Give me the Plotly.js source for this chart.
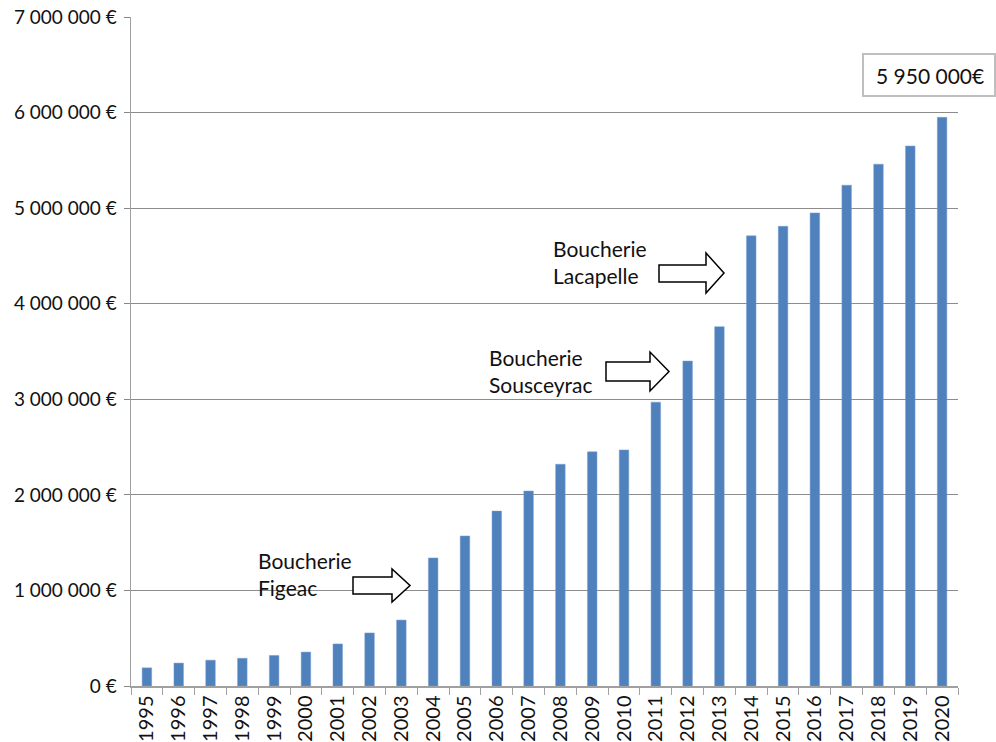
<!DOCTYPE html>
<html><head><meta charset="utf-8">
<script src="https://cdn.plot.ly/plotly-3.0.1.min.js"></script>
<style>html,body{margin:0;padding:0;background:#fff}#chart{width:996px;height:742px}</style>
</head><body><div id="chart"></div>
<script>
const years = ['1995','1996','1997','1998','1999','2000','2001','2002','2003','2004','2005','2006','2007','2008','2009','2010','2011','2012','2013','2014','2015','2016','2017','2018','2019','2020'];
const revenue = [190000,240000,270000,290000,320000,355000,440000,555000,690000,1340000,1570000,1830000,2040000,2320000,2450000,2470000,2970000,3400000,3760000,4710000,4810000,4950000,5240000,5460000,5650000,5950000];
const yTickVals = [0,1000000,2000000,3000000,4000000,5000000,6000000,7000000];
const yTickText = ['0 €','1 000 000 €','2 000 000 €','3 000 000 €','4 000 000 €','5 000 000 €','6 000 000 €','7 000 000 €'];
const notes = [
  {text:'Boucherie<br>Figeac', px:256, py:574},
  {text:'Boucherie<br>Sousceyrac', px:487, py:371},
  {text:'Boucherie<br>Lacapelle', px:551, py:262}
];
const arrows = [
  {x0:353, xb:392, xt:410, ht:569, bt:577, bb:594, hb:602},
  {x0:606, xb:650, xt:669, ht:352, bt:362, bb:381, hb:391},
  {x0:659, xb:706, xt:724, ht:253, bt:265, bb:282, hb:293}
];
const lastLabel = '5 950 000€';

const W=996,H=742,L=131,R=958,T=17,B=686;
const px=x=>(x-L)/(R-L), py=y=>(B-y)/(B-T);
const FONT='Lato, "Open Sans", sans-serif';

const shapes = arrows.map(a=>{
  const ym=(a.ht+a.hb)/2;
  const pts=[[a.x0,a.bt],[a.xb,a.bt],[a.xb,a.ht],[a.xt,ym],[a.xb,a.hb],[a.xb,a.bb],[a.x0,a.bb]];
  return {type:'path',xref:'paper',yref:'paper',
    path:'M'+pts.map(p=>px(p[0])+','+py(p[1])).join(' L')+' Z',
    line:{color:'#000',width:1.5},fillcolor:'#fff'};
});
shapes.push({type:'rect',xref:'paper',yref:'paper',x0:px(863),x1:px(995),y0:py(96),y1:py(54),
  line:{color:'#bfbfbf',width:2},fillcolor:'#fff'});

const annotations = notes.map(n=>({xref:'paper',yref:'paper',x:px(n.px),y:py(n.py),xanchor:'left',yanchor:'middle',
  text:n.text,showarrow:false,align:'left',font:{family:FONT,size:21,color:'#111'}}));
annotations.push({xref:'paper',yref:'paper',x:px(930),y:py(75),xanchor:'center',yanchor:'middle',
  text:lastLabel,showarrow:false,font:{family:FONT,size:21,color:'#111'}});

Plotly.newPlot('chart',[{type:'bar',x:years,y:revenue,marker:{color:'#4f81bd',line:{color:'#7a9fd0',width:0.5}},hoverinfo:'skip'}],{
  width:W,height:H,margin:{l:L,r:W-R,t:T,b:H-B},
  paper_bgcolor:'#fff',plot_bgcolor:'#fff',showlegend:false,bargap:0.7,
  font:{family:FONT,color:'#111'},
  xaxis:{type:'category',tickangle:-90,tickson:'boundaries',ticks:'outside',ticklen:7,tickcolor:'#a0a0a0',
    showline:true,linecolor:'#a0a0a0',linewidth:1.5,showgrid:false,tickfont:{family:FONT,size:20,color:'#111'},fixedrange:true},
  yaxis:{range:[0,7000000],tickvals:yTickVals,ticktext:yTickText,ticks:'outside',ticklen:6,tickcolor:'#888',
    showline:true,linecolor:'#a0a0a0',linewidth:1.5,showgrid:true,gridcolor:'#8c8c8c',gridwidth:1,zeroline:false,
    tickfont:{family:FONT,size:19,color:'#111'},ticklabelstandoff:3,fixedrange:true},
  shapes:shapes,annotations:annotations
},{displayModeBar:false,staticPlot:true});
</script></body></html>
